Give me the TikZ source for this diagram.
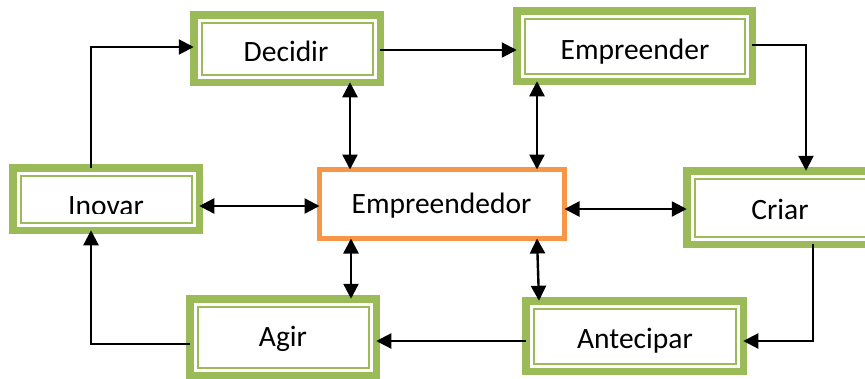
\documentclass[tikz,border=0pt]{standalone}
\usepackage{fontspec}
\setmainfont{Carlito}
\usetikzlibrary{arrows.meta}
\definecolor{leaf}{RGB}{155,187,89}
\definecolor{amber}{RGB}{247,150,70}
\tikzset{
  greenbox/.style={draw=leaf, line width=7.5pt, fill=white, inner sep=0pt, outer sep=0pt,
    path picture={\draw[leaf, line width=2pt]
      ([xshift=7.75pt,yshift=-7.75pt]path picture bounding box.north west) rectangle
      ([xshift=-7.75pt,yshift=7.75pt]path picture bounding box.south east);}},
  hubbox/.style={draw=amber, line width=5pt, fill=white, inner sep=0pt, outer sep=0pt},
  word/.style={anchor=base, inner sep=0pt, font=\fontsize{29.5}{35}\selectfont},
  arr/.style={line width=2.2pt, -{Triangle[length=15pt,width=15pt]}},
  twoway/.style={line width=2.4pt, {Triangle[length=15pt,width=15pt]}-{Triangle[length=15pt,width=15pt]}}
}
\begin{document}
\begin{tikzpicture}[x=1pt,y=-1pt]
\useasboundingbox (0,0) rectangle (865,378);
\clip (0,0) rectangle (865,378);

% boxes
\node[greenbox, minimum width=186.5pt, minimum height=67.5pt] (decidir) at (287,48.5) {};
\node[greenbox, minimum width=235.5pt, minimum height=70.5pt] (empreender) at (634.5,46) {};
\node[greenbox, minimum width=186.5pt, minimum height=62.5pt] (inovar) at (106,199) {};
\node[greenbox, minimum width=186.5pt, minimum height=73.5pt] (criar) at (780,207.5) {};
\node[greenbox, minimum width=186.5pt, minimum height=76.5pt] (agir) at (283,337) {};
\node[greenbox, minimum width=217.5pt, minimum height=70.5pt] (antecipar) at (634.5,336) {};
\node[hubbox, minimum width=245pt, minimum height=69pt] (hub) at (442,204) {};

% labels
\node[word] (decidirtxt) at (286,61) {Decidir};
\node[word] (empreendertxt) at (635,59) {Empreender};
\node[word] (hubtxt) at (441.5,213) {Empreendedor};
\node[word] (criartxt) at (780,219) {Criar};
\node[word] (agirtxt) at (283,346) {Agir};
\node[word] (antecipartxt) at (635,348) {Antecipar};
\begin{scope}
  \clip (20,170) rectangle (195,213);
  \node[word] (inovartxt) at (106,215) {Inovar};
\end{scope}

% bend points of the outer cycle
\coordinate (k1) at (91,47);
\coordinate (k2) at (0,50);
\coordinate (k3) at (806,45);
\coordinate (k4) at (813,341);
\coordinate (k5) at (0,341);
\coordinate (k6) at (91,344);

% outer cycle
\draw[arr] (inovar.north -| k1) |- (decidir.west |- k1);
\draw[arr] (decidir.east |- k2) -- (empreender.west |- k2);
\draw[arr] (empreender.east |- k3) -| (criar.north -| k3);
\draw[arr] (criar.south -| k4) |- (antecipar.east |- k4);
\draw[arr] (antecipar.west |- k5) -- (agir.east |- k5);
\draw[arr] (agir.west |- k6) -| (inovar.south -| k6);

% links with the centre
\coordinate (h1) at (0,206);
\coordinate (h2) at (0,209);
\coordinate (v1) at (350,0);
\coordinate (v2) at (537,0);
\coordinate (v3) at (351,0);
\coordinate (v4) at (539,0);
\draw[twoway] (inovar.east |- h1) -- (hub.west |- h1);
\draw[twoway] (hub.east |- h2) -- (criar.west |- h2);
\draw[twoway] (decidir.south -| v1) -- (hub.north -| v1);
\draw[twoway] (empreender.south -| v2) -- (hub.north -| v2);
\draw[twoway] (hub.south -| v3) -- (agir.north -| v3);
\draw[twoway] (hub.south -| v2) -- (antecipar.north -| v4);
\end{tikzpicture}
\end{document}
